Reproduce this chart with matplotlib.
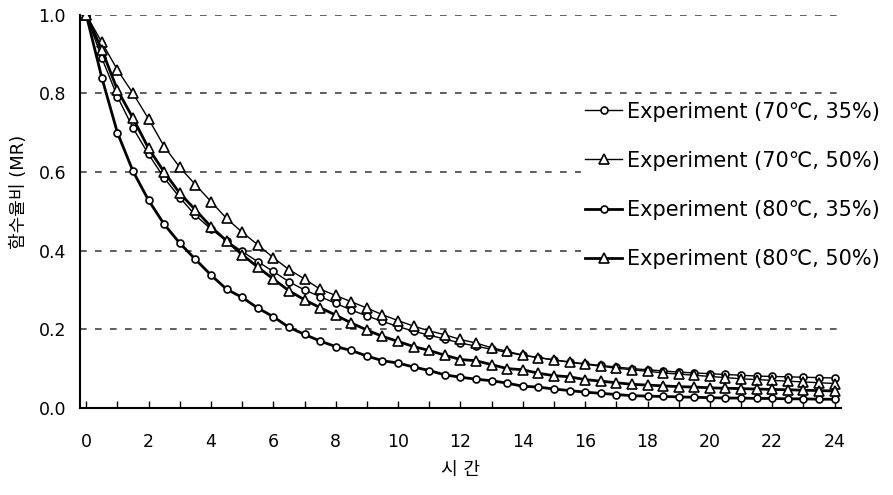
import matplotlib
matplotlib.use("Agg")
import matplotlib.pyplot as plt
import numpy as np

plt.rcParams['font.family'] = ['DejaVu Sans', 'Noto Sans CJK KR']

# drying time (h), one reading every half hour
hours = np.arange(0, 24.5, 0.5)

# moisture ratio readings
mr_70_35 = [1.0, 0.89, 0.792, 0.712, 0.645, 0.585, 0.535, 0.49, 0.455, 0.425,
            0.398, 0.372, 0.347, 0.321, 0.30, 0.283, 0.266, 0.249, 0.234, 0.22,
            0.207, 0.195, 0.185, 0.175, 0.165, 0.157, 0.149, 0.141, 0.134, 0.128,
            0.122, 0.117, 0.112, 0.108, 0.104, 0.10, 0.097, 0.094, 0.091, 0.089,
            0.087, 0.085, 0.083, 0.081, 0.08, 0.079, 0.078, 0.077, 0.076]
mr_70_50 = [1.0, 0.93, 0.86, 0.80, 0.735, 0.665, 0.612, 0.568, 0.525, 0.482,
            0.447, 0.415, 0.382, 0.352, 0.328, 0.302, 0.286, 0.27, 0.254, 0.237,
            0.222, 0.208, 0.196, 0.186, 0.174, 0.165, 0.153, 0.144, 0.134, 0.128,
            0.122, 0.116, 0.111, 0.106, 0.101, 0.097, 0.093, 0.089, 0.086, 0.083,
            0.08, 0.077, 0.074, 0.072, 0.07, 0.068, 0.066, 0.064, 0.062]
mr_80_35 = [1.0, 0.84, 0.70, 0.602, 0.528, 0.467, 0.419, 0.378, 0.338, 0.302,
            0.281, 0.254, 0.232, 0.205, 0.187, 0.17, 0.156, 0.146, 0.132, 0.12,
            0.114, 0.104, 0.095, 0.084, 0.078, 0.073, 0.069, 0.063, 0.055, 0.053,
            0.048, 0.044, 0.04, 0.037, 0.034, 0.031, 0.03, 0.029, 0.028, 0.027,
            0.026, 0.025, 0.025, 0.024, 0.024, 0.023, 0.023, 0.022, 0.022]
mr_80_50 = [1.0, 0.911, 0.809, 0.737, 0.66, 0.60, 0.546, 0.504, 0.461, 0.425,
            0.39, 0.358, 0.328, 0.298, 0.275, 0.255, 0.236, 0.216, 0.198, 0.182,
            0.169, 0.156, 0.146, 0.134, 0.123, 0.12, 0.11, 0.10, 0.097, 0.088,
            0.082, 0.079, 0.072, 0.068, 0.064, 0.06, 0.058, 0.056, 0.054, 0.053,
            0.051, 0.05, 0.049, 0.048, 0.047, 0.046, 0.045, 0.044, 0.043]

labels = ['Experiment (70\u2103, 35%)', 'Experiment (70\u2103, 50%)',
          'Experiment (80\u2103, 35%)', 'Experiment (80\u2103, 50%)']

fig = plt.figure(figsize=(8.93, 4.95), dpi=100)
ax = fig.add_axes([0.0896, 0.176, 0.852, 0.794])

common = dict(color='black', markerfacecolor='white', markeredgecolor='black',
              markeredgewidth=1.2)
ax.plot(hours, mr_70_35, lw=1.0, marker='o', ms=5, label=labels[0], **common)
ax.plot(hours, mr_70_50, lw=1.0, marker='^', ms=7, label=labels[1], **common)
ax.plot(hours, mr_80_35, lw=2.0, marker='o', ms=5, label=labels[2], **common)
ax.plot(hours, mr_80_50, lw=2.0, marker='^', ms=7, label=labels[3], **common)

ax.set_xlim(-0.2, 24.2)
ax.set_ylim(0, 1.0)
ax.set_xticks(np.arange(0, 25, 2))
ax.set_xticks(np.arange(0, 25, 1), minor=True)
ax.set_yticks(np.arange(0, 1.01, 0.2))
ax.set_yticklabels(['0.0', '0.2', '0.4', '0.6', '0.8', '1.0'])

ax.tick_params(axis='x', which='both', direction='in', length=5, width=1,
               labelsize=12.5, pad=18)
ax.tick_params(axis='y', length=0, labelsize=12.5, pad=10)

for s in ['top', 'right']:
    ax.spines[s].set_visible(False)
ax.spines['left'].set_linewidth(1.5)
ax.spines['bottom'].set_linewidth(1.5)

ax.yaxis.grid(True, linestyle=(0, (4, 5)), color='#444444', lw=1.2)
ax.set_axisbelow(True)

ax.set_xlabel('\uc2dc \uac04', fontsize=13, labelpad=7)
ax.set_ylabel('\ud568\uc218\uc728\ube44 (MR)', fontsize=13)
ax.yaxis.set_label_coords(-0.068, 0.55)

leg = ax.legend(loc='upper left', bbox_to_anchor=(0.658, 0.79), fontsize=15,
                frameon=True, facecolor='white', edgecolor='none', framealpha=1,
                handlelength=1.8, handletextpad=0.22, labelspacing=1.4,
                borderpad=0.2, borderaxespad=0)

fig.savefig('out.png', dpi=100)
